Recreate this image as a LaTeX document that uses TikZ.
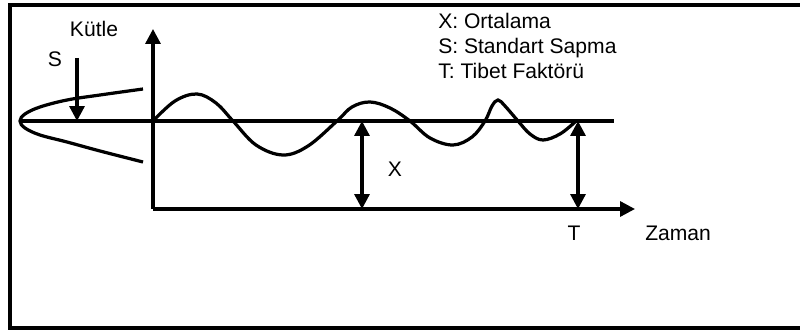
\documentclass[tikz,border=0pt]{standalone}
\usepackage{fontspec}
\setmainfont{Liberation Sans}
\usetikzlibrary{arrows.meta}
\begin{document}
\begin{tikzpicture}[x=0.025cm,y=-0.025cm,
  line/.style={line width=2.3pt},
  tip/.style={-{Triangle[length=10.5pt,width=10.5pt]}},
  dtip/.style={{Triangle[length=10.5pt,width=10.5pt]}-{Triangle[length=10.5pt,width=10.5pt]}},
  lbl/.style={font=\fontsize{15}{18}\selectfont, inner sep=0pt}]
\useasboundingbox (0,0) rectangle (800,333);
% frame
\draw[line width=2.8pt] (812,5) -- (10,5) -- (10,328) -- (812,328);
% coordinates
\coordinate (O) at (153,209);
\coordinate (Ytop) at (153,29);
\coordinate (Xend) at (635,209);
\coordinate (Mstart) at (20,121);
\coordinate (Mend) at (614,121);
\coordinate (A1top) at (362,121);
\coordinate (A1bot) at (362,209);
\coordinate (A2top) at (578,121);
\coordinate (A2bot) at (578,209);
\coordinate (Stop) at (77,58);
\coordinate (Sbot) at (77,121);
% axes
\draw[line,tip] (O) -- (Ytop);
\draw[line,tip] (O) -- (Xend);
% mean line
\draw[line] (Mstart) -- (Mend);
% parabola
\draw[line] plot[smooth,tension=0.6] coordinates {(143,89) (100,95) (67,100) (40,107) (25,114) (20,121) (25,128) (40,135) (67,142) (100,151) (143,162)};
% wave
\draw[line] plot[smooth,tension=0.6] coordinates {(153,121) (175,101) (197,94) (216,103) (233,121) (256,145) (283,155) (308,146) (337,121) (352,107) (370,102) (390,108) (410,121) (430,138) (453,145) (472,137) (485,121) (492,106) (498,100) (505,106) (518,121) (530,134) (543,140) (560,134) (575,122)};
% arrows
\draw[line,tip] (Stop) -- (Sbot);
\draw[line,dtip] (A1top) -- (A1bot);
\draw[line,dtip] (A2top) -- (A2bot);
% labels
\node[lbl,anchor=base] (kutle) at (94,37) {Kütle};
\node[lbl,anchor=base] (s) at (55,67) {S};
\node[lbl,anchor=base] (x) at (395,177) {X};
\node[lbl,anchor=base] (t) at (574,241) {T};
\node[lbl,anchor=base west] (zaman) at (645,241) {Zaman};
\node[lbl,anchor=base west] (l1) at (438,29) {X: Ortalama};
\node[lbl,anchor=base west] (l2) at (438,54) {S: Standart Sapma};
\node[lbl,anchor=base west] (l3) at (438,79) {T: Tibet Faktörü};
\end{tikzpicture}
\end{document}
